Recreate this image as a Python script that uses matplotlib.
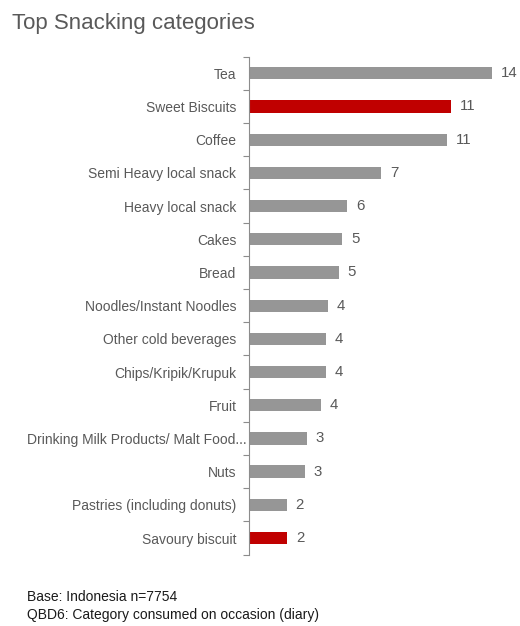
import matplotlib.pyplot as plt
from matplotlib.transforms import ScaledTranslation

plt.rcParams['font.family'] = ['Liberation Sans', 'DejaVu Sans']

categories = ['Tea', 'Sweet Biscuits', 'Coffee', 'Semi Heavy local snack',
              'Heavy local snack', 'Cakes', 'Bread', 'Noodles/Instant Noodles',
              'Other cold beverages', 'Chips/Kripik/Krupuk', 'Fruit',
              'Drinking Milk Products/ Malt Food...', 'Nuts',
              'Pastries (including donuts)', 'Savoury biscuit']
values = [13.67, 11.36, 11.17, 7.45, 5.54, 5.26, 5.05, 4.43, 4.34, 4.34,
          4.04, 3.25, 3.14, 2.12, 2.14]
highlight = ['Sweet Biscuits', 'Savoury biscuit']

grey = '#969696'
red = '#C00000'
text_col = '#595959'

fig = plt.figure(figsize=(5.2, 6.26), dpi=100)
ax = fig.add_axes([249 / 520, 0.114, (512 - 249) / 520, 0.7955])

colors = [red if c in highlight else grey for c in categories]
pos = list(range(len(categories)))
bars = ax.barh(pos, values, height=0.37, color=colors)

for b, v in zip(bars, values):
    ax.annotate('%.0f' % v, (b.get_width(), b.get_y() + b.get_height() / 2),
                xytext=(6.5, 0), textcoords='offset points', va='center',
                ha='left', fontsize=10.8, color=text_col)

ax.set_ylim(len(categories) - 0.5, -0.5)
ax.set_xlim(0, (512 - 249) / 17.75)
ax.set_yticks(pos)
ax.set_yticklabels(categories, fontsize=10, color=text_col)
ax.set_yticks([i + 0.5 for i in range(-1, len(categories))], minor=True)
ax.tick_params(axis='y', which='major', length=0, pad=9)
ax.tick_params(axis='y', which='minor', length=4, color='#8c8c8c', width=0.8)
ax.set_xticks([])
for s in ['top', 'right', 'bottom']:
    ax.spines[s].set_visible(False)
ax.spines['left'].set_color('#8c8c8c')
ax.spines['left'].set_linewidth(0.8)

# the truncated label runs over the axis in the original
for lab in ax.get_yticklabels():
    if lab.get_text().endswith('...'):
        lab.set_transform(lab.get_transform() + ScaledTranslation(0.1, 0, fig.dpi_scale_trans))

fig.text(12 / 520, 1 - 23 / 626, 'Top Snacking categories', fontsize=16,
         color=text_col, va='center', ha='left')
fig.text(27 / 520, 1 - 597 / 626, 'Base: Indonesia n=7754', fontsize=10,
         color='#1a1a1a', va='center', ha='left')
fig.text(27 / 520, 1 - 615 / 626, 'QBD6: Category consumed on occasion (diary)',
         fontsize=10, color='#1a1a1a', va='center', ha='left')

fig.savefig('out.png', dpi=100, facecolor='white')
